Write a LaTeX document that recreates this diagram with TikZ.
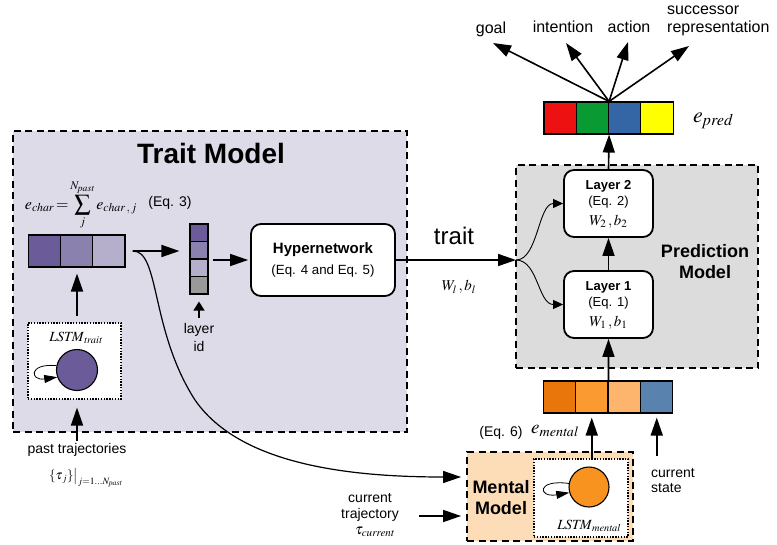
\documentclass[tikz,border=0pt]{standalone}
\usepackage{mathptmx}
\usepackage[no-math]{fontspec}
\setmainfont{Liberation Sans}
\usetikzlibrary{arrows.meta}
\newcommand{\fsz}[1]{\fontsize{#1}{#1}\selectfont}
\definecolor{traitbg}{RGB}{221,219,232}
\definecolor{predbg}{RGB}{220,220,220}
\definecolor{mentbg}{RGB}{253,221,184}
\definecolor{purA}{RGB}{107,91,153}
\definecolor{purB}{RGB}{139,129,174}
\definecolor{purC}{RGB}{181,175,204}
\definecolor{greyC}{RGB}{153,153,153}
\definecolor{cRed}{RGB}{238,17,17}
\definecolor{cGreen}{RGB}{10,154,51}
\definecolor{cBlue}{RGB}{52,101,164}
\definecolor{cYellow}{RGB}{255,255,0}
\definecolor{orA}{RGB}{232,118,10}
\definecolor{orB}{RGB}{250,154,48}
\definecolor{orC}{RGB}{253,180,108}
\definecolor{stBlue}{RGB}{90,130,174}
\definecolor{orCirc}{RGB}{247,147,30}
\tikzset{
  dbox/.style={draw, line width=1.8pt, dash pattern=on 7pt off 4.5pt, inner sep=0pt},
  dotbox/.style={draw, line width=1.1pt, dash pattern=on 1.4pt off 1.4pt, fill=white, inner sep=0pt},
  cell/.style={draw, line width=1.1pt, minimum width=32.3pt, minimum height=32pt, inner sep=0pt},
  scell/.style={draw, line width=1.1pt, minimum width=18pt, minimum height=17.5pt, inner sep=0pt},
  rbox/.style={draw, line width=1.8pt, rounded corners=10pt, fill=white, inner sep=0pt},
  neuron/.style={circle, draw, line width=1.1pt, minimum size=41pt, inner sep=0pt},
  bigarrow/.style={line width=1.6pt, -{Triangle[length=18pt,width=12pt]}},
  midarrow/.style={line width=0.9pt, -{Triangle[length=10pt,width=9pt]}},
  smallarrow/.style={line width=1.4pt, -{Triangle[length=9pt,width=11pt]}},
  selfarrow/.style={line width=0.8pt, -{Triangle[length=13pt,width=8pt]}},
  txt/.style={inner sep=0pt, font=\fsz{14}},
  outtxt/.style={inner sep=0pt, font=\fsz{16}},
  mth/.style={inner sep=0pt, font=\fsz{15}},
}
\begin{document}
\begin{tikzpicture}[x=1pt,y=-1pt]
\useasboundingbox (0,0) rectangle (777,544);

% ---------- model regions ----------
\node[dbox, fill=traitbg, minimum width=394pt, minimum height=301pt] (trait) at (210,281.5) {};
\node[dbox, fill=predbg, minimum width=242pt, minimum height=203pt] (pred) at (637,266.5) {};
\node[dbox, fill=mentbg, minimum width=166pt, minimum height=89pt] (mental) at (550,496.5) {};

% ---------- trait model ----------
\node[inner sep=0pt, font=\fsz{28}\bfseries] (ttitle) at (211,153) {Trait Model};
\node[inner sep=0pt, font=\fsz{16}] (echar) at (81,205)
  {$\displaystyle e_{\mathit{char}}\!=\!\sum_{j}^{N_{\mathit{past}}} e_{\mathit{char}\,,\,j}$};
\node[txt] (eq3) at (170,203) {(Eq. 3)};

\node[cell, fill=purA] (tv1) at (44.2,251) {};
\node[cell, fill=purB] (tv2) at (76.5,251) {};
\node[cell, fill=purC] (tv3) at (108.8,251) {};

\node[scell, fill=purA] (sv1) at (199,232.75) {};
\node[scell, fill=purB] (sv2) at (199,250.25) {};
\node[scell, fill=purC] (sv3) at (199,267.75) {};
\node[scell, fill=greyC] (sv4) at (199,285.25) {};

\node[rbox, minimum width=144pt, minimum height=72pt] (hyp) at (323,260) {};
\node[inner sep=0pt, font=\fsz{15}\bfseries] (hypt) at (323,250) {Hypernetwork};
\node[inner sep=0pt, font=\fsz{13.3}] (hype) at (323,271) {(Eq. 4 and Eq. 5)};

\node[txt] (lay) at (199,330) {layer};
\node[txt] (lid) at (199,346) {id};
\coordinate (lidtail) at (199,318);

\node[dotbox, minimum width=93pt, minimum height=76pt] (lstmT) at (74.5,361) {};
\node[inner sep=0pt, font=\fsz{14}] (lstmTl) at (76,338) {$\mathit{LSTM}_{\mathit{trait}}$};
\node[neuron, fill=purA] (cT) at (77,370) {};

\node[txt] (past) at (77,450) {past trajectories};
\node[inner sep=0pt, font=\fsz{13}] (pastf) at (86,478) {$\{\tau_{\,j}\}\bigr|_{j=1\ldots N_{\mathit{past}}}$};
\coordinate (pasttail) at (77,441);

% ---------- prediction model ----------
\node[rbox, minimum width=89pt, minimum height=67pt] (L2) at (608.5,203.5) {};
\node[rbox, minimum width=89pt, minimum height=67pt] (L1) at (608.5,304.5) {};
\node[inner sep=0pt, font=\fsz{13}\bfseries] (L2a) at (608.5,186) {Layer 2};
\node[inner sep=0pt, font=\fsz{13}] (L2b) at (608.5,202) {(Eq. 2)};
\node[mth] (L2c) at (608.5,222) {$W_2\,, b_2$};
\node[inner sep=0pt, font=\fsz{13}\bfseries] (L1a) at (608.5,287) {Layer 1};
\node[inner sep=0pt, font=\fsz{13}] (L1b) at (608.5,303) {(Eq. 1)};
\node[mth] (L1c) at (608.5,323) {$W_1\,, b_1$};
\node[inner sep=0pt, font=\fontsize{18}{21}\selectfont\bfseries, align=center] (ptitle) at (705,262) {Prediction\\Model};

\coordinate (br) at (516,260);
\node[inner sep=0pt, font=\fsz{24}] (traitl) at (454,236) {trait};
\node[mth] (wl) at (459,287) {$W_l\,, b_l$};

% ---------- output embedding ----------
\node[cell, fill=cRed] (ep1) at (560.1,118) {};
\node[cell, fill=cGreen] (ep2) at (592.4,118) {};
\node[cell, fill=cBlue] (ep3) at (624.6,118) {};
\node[cell, fill=cYellow] (ep4) at (656.9,118) {};
\node[inner sep=0pt, font=\fsz{22}, anchor=west] (epl) at (693,121) {$e_{\mathit{pred}}$};

\node[outtxt] (goal) at (491,29) {goal};
\node[outtxt] (intent) at (563,27) {intention};
\node[outtxt] (action) at (629,27) {action};
\node[inner sep=0pt, font=\fontsize{16}{18}\selectfont, align=left, anchor=west] (succ) at (667,21) {successor\\representation};
\coordinate (goaltip) at (493,43);
\coordinate (inttip) at (566,43);
\coordinate (acttip) at (628,42);
\coordinate (succtip) at (689,46);

% ---------- mental embedding ----------
\node[cell, fill=orA] (em1) at (559.25,397) {};
\node[cell, fill=orB] (em2) at (591.75,397) {};
\node[cell, fill=orC] (em3) at (624.25,397) {};
\node[cell, fill=stBlue] (em4) at (656.75,397) {};
\node[txt] (eq6) at (501,433) {(Eq. 6)};
\node[inner sep=0pt, font=\fsz{19}, anchor=west] (eml) at (531,431) {$e_{\mathit{mental}}$};

\node[txt, align=left, anchor=north west, font=\fontsize{14}{15.5}\selectfont] (cstate) at (651,468) {current\\state};
\coordinate (cstail) at (656.75,456);

% ---------- mental model ----------
\node[dotbox, minimum width=94pt, minimum height=78pt] (lstmM) at (581,498) {};
\node[neuron, fill=orCirc, minimum size=40pt] (cM) at (589,487) {};
\node[inner sep=0pt, font=\fsz{14}] (lstmMl) at (589,526) {$\mathit{LSTM}_{\mathit{mental}}$};
\node[inner sep=0pt, font=\fontsize{18}{21}\selectfont\bfseries, align=center] (mtitle) at (501,498) {Mental\\Model};

\node[txt, align=center, font=\fontsize{14}{16}\selectfont] (ctraj) at (370,507) {current\\trajectory};
\node[inner sep=0pt, font=\fsz{15}] (tauc) at (375,532) {$\tau_{\mathit{current}}$};
\coordinate (ctail) at (419,516);

% ---------- connectors ----------
\coordinate (split) at ([xshift=7pt]tv3.east);
\draw[bigarrow, shorten >=10pt] (split) -- (split -| sv1.west);
\draw[bigarrow, shorten <=4pt, shorten >=2pt] (sv3.east |- hyp) -- (hyp.west);
\draw[smallarrow, shorten >=7pt] (lidtail) -- (sv4.south);
\draw[bigarrow, shorten <=6pt, shorten >=6pt] (cT |- lstmT.north) -- (cT |- tv2.south);
\draw[bigarrow, shorten >=8pt] (pasttail) -- (cT |- lstmT.south);
\draw[selfarrow] (cT.168) .. controls (28,363) and (30,381) .. (cT.200);

\draw[line width=1.2pt, -{Triangle[length=18pt,width=12pt]}] (split)
  .. controls (160,250) and (150,330) .. (195,400)
  .. controls (240,465) and (350,477) .. ([xshift=-5pt,yshift=19.5pt]mental.west);
\draw[bigarrow, shorten >=5pt] (ctail) -- (mental.west |- ctail);

\draw[bigarrow] (hyp.east) -- (br);
\draw[midarrow] (br) .. controls +(22,0) and +(-25,0) .. (L2.west);
\draw[midarrow] (br) .. controls +(22,0) and +(-25,0) .. (L1.west);
\draw[bigarrow] (L1.north) -- (L2.south);
\draw[bigarrow] (L2.north) -- (ep2.south east);
\draw[bigarrow] (em2.north east) -- (L1.south);

\draw[bigarrow] (ep2.north east) -- (goaltip);
\draw[bigarrow] (ep2.north east) -- (inttip);
\draw[bigarrow] (ep2.north east) -- (acttip);
\draw[bigarrow] (ep2.north east) -- (succtip);

\draw[bigarrow, shorten >=4pt] (em2.south |- lstmM.north) -- (em2.south);
\draw[bigarrow, shorten >=4pt] (cstail) -- (em4.south);
\draw[selfarrow] (cM.170) .. controls (536,479) and (538,498) .. (cM.196);
\end{tikzpicture}
\end{document}
